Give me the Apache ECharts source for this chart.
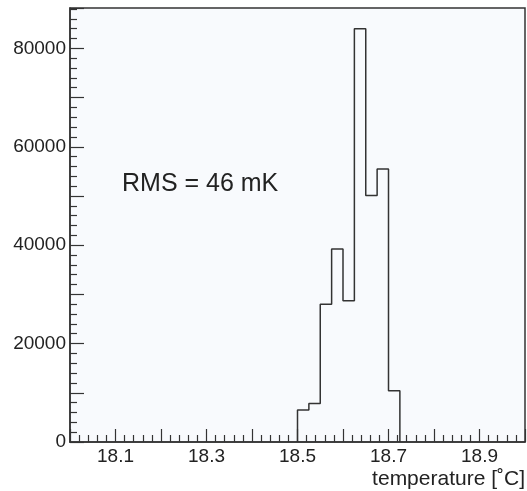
<!DOCTYPE html>
<html>
<head>
<meta charset="utf-8">
<script src="https://cdn.jsdelivr.net/npm/echarts@6/dist/echarts.min.js"></script>
<style>
  html, body { margin: 0; padding: 0; background: #ffffff; }
  #item { width: 527px; height: 491px; }
</style>
</head>
<body>
<div id="item"></div>
<script>
	var item = echarts.init(document.getElementById('item'));
	/*-- bin edges (°C) --*/
	let edges = [18.5, 18.525, 18.55, 18.575, 18.6, 18.625, 18.65, 18.675, 18.7, 18.725];
	/*-- bin contents --*/
	let counts = [6500, 7800, 28000, 39200, 28700, 84000, 50100, 55500, 10400];
	/*-- annotation --*/
	let rmsText = 'RMS = 46 mK';
	let xTitle = 'temperature [\u02DAC]';

	// histogram outline points: start at 0, one per left edge, back to 0
	let _outline = [[edges[0], 0]];
	counts.forEach(function (v, i) {
		_outline.push([edges[i], v]);
	});
	_outline.push([edges[edges.length - 1], 0]);

	let _font = '"Liberation Sans", Arial, sans-serif';
	let _ink = '#333';
	let _text = '#222';

	let _item = {
		animation: false,
		backgroundColor: '#ffffff',
		grid: {
			left: 70,
			right: 2,
			top: 8,
			bottom: 49,
			show: true,
			backgroundColor: '#f8fafd',
			borderColor: _ink,
			borderWidth: 1.5
		},
		graphic: [{
			type: 'text',
			left: 122,
			top: 172,
			style: {
				text: rmsText,
				fill: _text,
				font: '25px ' + _font
			}
		}, {
			type: 'text',
			right: 2,
			bottom: 1,
			style: {
				text: xTitle,
				fill: _text,
				font: '21px ' + _font
			}
		}],
		xAxis: {
			type: 'value',
			min: 18,
			max: 19,
			interval: 0.1,
			axisLine: { show: true, onZero: false, lineStyle: { color: _ink, width: 1.5 } },
			axisTick: { show: true, inside: true, length: 13, lineStyle: { color: _ink, width: 1.2 } },
			minorTick: { show: true, splitNumber: 5, length: 7, lineStyle: { color: _ink, width: 1.2 } },
			splitLine: { show: false },
			axisLabel: {
				color: _text,
				fontFamily: _font,
				fontSize: 19,
				margin: 5,
				showMinLabel: false,
				showMaxLabel: false,
				formatter: function (v) {
					// only odd tenths are labelled
					return Math.round(v * 10) % 2 === 1 ? v.toFixed(1) : '';
				}
			}
		},
		yAxis: {
			type: 'value',
			min: 0,
			max: 88200,
			interval: 10000,
			axisLine: { show: true, lineStyle: { color: _ink, width: 1.5 } },
			axisTick: { show: true, inside: true, length: 14, lineStyle: { color: _ink, width: 1.2 } },
			minorTick: { show: true, splitNumber: 5, length: 7, lineStyle: { color: _ink, width: 1.2 } },
			splitLine: { show: false },
			axisLabel: {
				color: _text,
				fontFamily: _font,
				fontSize: 19,
				margin: 4,
				showMaxLabel: false,
				formatter: function (v) {
					return v % 20000 === 0 ? String(v) : '';
				}
			}
		},
		series: [{
			type: 'line',
			step: 'end',
			data: _outline,
			showSymbol: false,
			lineStyle: { color: _ink, width: 1.5 },
			z: 3
		}]
	};
	item.setOption(_item);
</script>
</body>
</html>
